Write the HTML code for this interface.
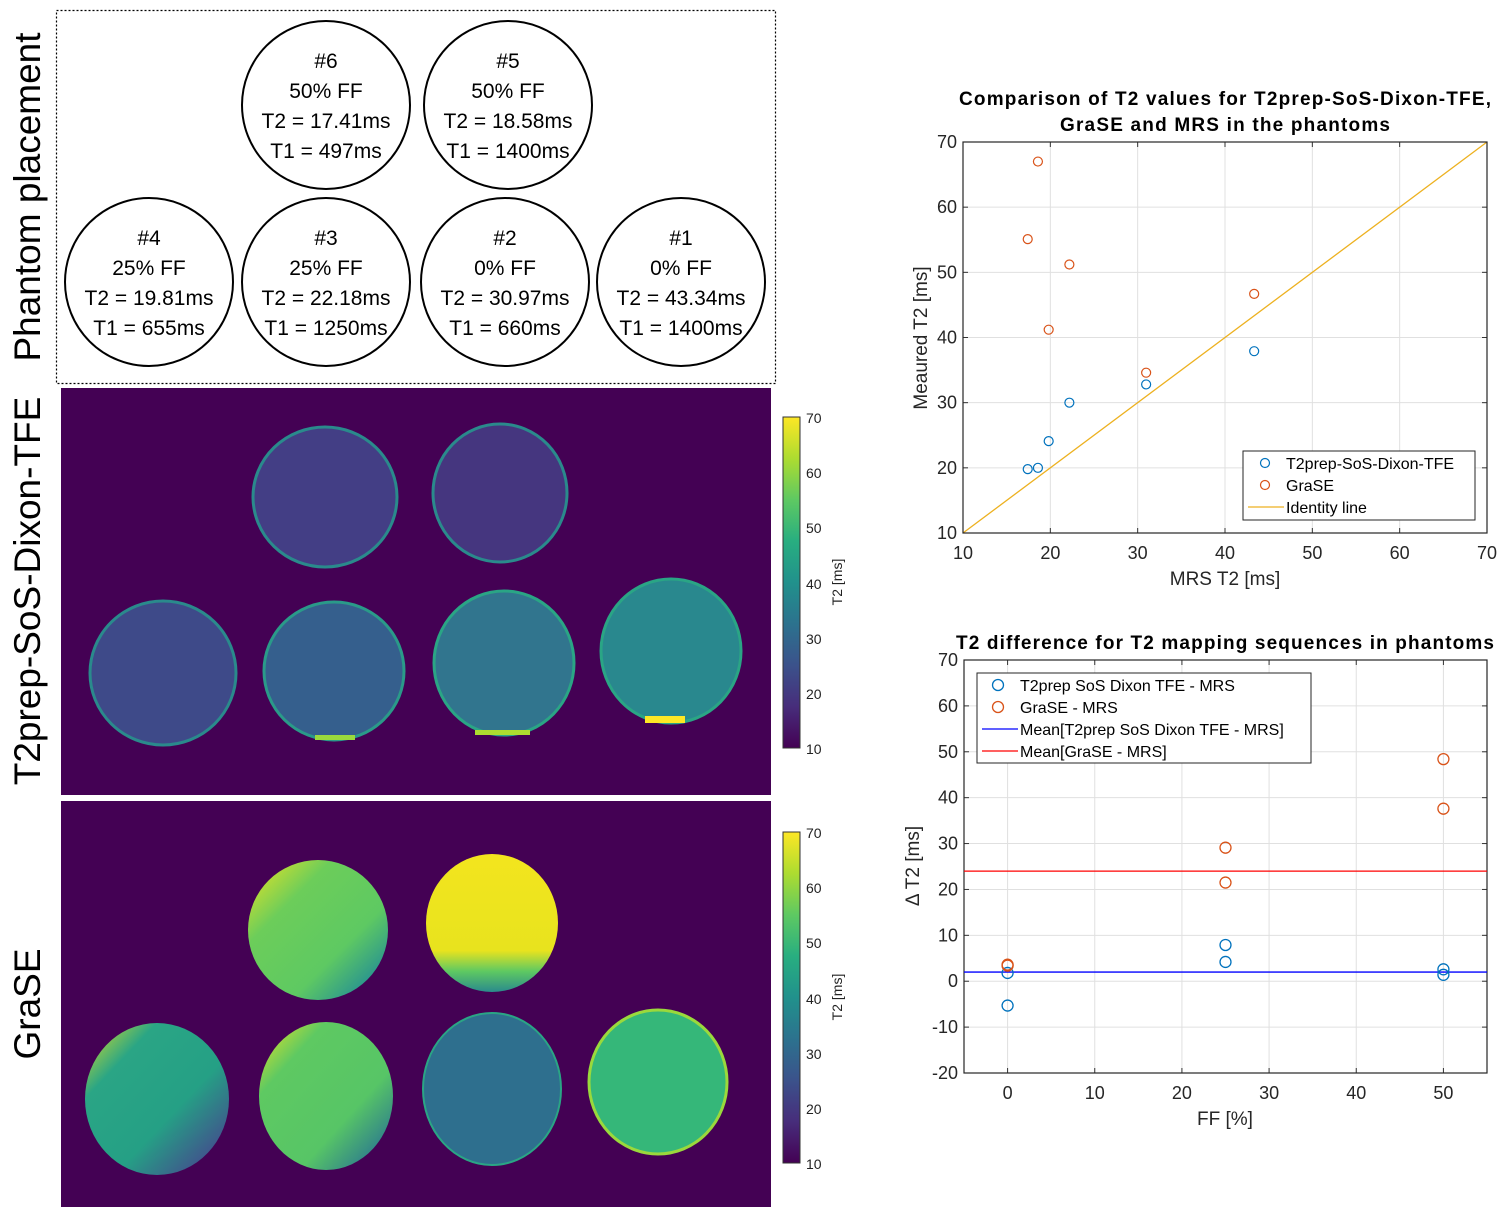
<!DOCTYPE html>
<html><head><meta charset="utf-8">
<style>
html,body{margin:0;padding:0;background:#fff;}
svg{display:block;font-family:"Liberation Sans",sans-serif;}
</style></head>
<body>
<svg id="root" width="1512" height="1221" viewBox="0 0 1512 1221" xmlns="http://www.w3.org/2000/svg">
<defs>
  <linearGradient id="viridis" x1="0" y1="1" x2="0" y2="0">
    <stop offset="0" stop-color="#440154"/><stop offset="0.125" stop-color="#472d7b"/>
    <stop offset="0.25" stop-color="#3b528b"/><stop offset="0.375" stop-color="#2c728e"/>
    <stop offset="0.5" stop-color="#21918c"/><stop offset="0.625" stop-color="#28ae80"/>
    <stop offset="0.75" stop-color="#5ec962"/><stop offset="0.875" stop-color="#addc30"/>
    <stop offset="1" stop-color="#fde725"/>
  </linearGradient>
  <linearGradient id="g6" x1="0" y1="0" x2="1" y2="1">
    <stop offset="0" stop-color="#f3e51e"/><stop offset="0.3" stop-color="#6ccd5a"/>
    <stop offset="0.65" stop-color="#5ec962"/><stop offset="0.85" stop-color="#2f9a8a"/><stop offset="1" stop-color="#3b528b"/>
  </linearGradient>
  <linearGradient id="g5" x1="0" y1="0" x2="0" y2="1">
    <stop offset="0" stop-color="#f3e51e"/><stop offset="0.7" stop-color="#e8e31e"/>
    <stop offset="0.85" stop-color="#5ec962"/><stop offset="1" stop-color="#2a8a8c"/>
  </linearGradient>
  <linearGradient id="g4" x1="0" y1="0" x2="1" y2="1">
    <stop offset="0" stop-color="#e5e21e"/><stop offset="0.25" stop-color="#2aa585"/>
    <stop offset="0.6" stop-color="#25a085"/><stop offset="0.85" stop-color="#3e5a8c"/><stop offset="1" stop-color="#3b528b"/>
  </linearGradient>
  <linearGradient id="g3" x1="0" y1="0" x2="1" y2="1">
    <stop offset="0" stop-color="#f1e51e"/><stop offset="0.25" stop-color="#5ec962"/>
    <stop offset="0.65" stop-color="#57c566"/><stop offset="0.9" stop-color="#2c7a8e"/><stop offset="1" stop-color="#3b528b"/>
  </linearGradient>
</defs>

<!-- Phantom placement box -->
<rect x="56.5" y="10.5" width="719" height="373" fill="none" stroke="#000" stroke-width="1.2" stroke-dasharray="2,2"/>
<g font-size="21" text-anchor="middle" fill="#000">
  <g><circle cx="326" cy="105" r="84" fill="#fff" stroke="#000" stroke-width="2"/>
    <text x="326" y="68">#6</text><text x="326" y="98">50% FF</text><text x="326" y="128">T2 = 17.41ms</text><text x="326" y="158">T1 = 497ms</text></g>
  <g><circle cx="508" cy="105" r="84" fill="#fff" stroke="#000" stroke-width="2"/>
    <text x="508" y="68">#5</text><text x="508" y="98">50% FF</text><text x="508" y="128">T2 = 18.58ms</text><text x="508" y="158">T1 = 1400ms</text></g>
  <g><circle cx="149" cy="282" r="84" fill="#fff" stroke="#000" stroke-width="2"/>
    <text x="149" y="245">#4</text><text x="149" y="275">25% FF</text><text x="149" y="305">T2 = 19.81ms</text><text x="149" y="335">T1 = 655ms</text></g>
  <g><circle cx="326" cy="282" r="84" fill="#fff" stroke="#000" stroke-width="2"/>
    <text x="326" y="245">#3</text><text x="326" y="275">25% FF</text><text x="326" y="305">T2 = 22.18ms</text><text x="326" y="335">T1 = 1250ms</text></g>
  <g><circle cx="505" cy="282" r="84" fill="#fff" stroke="#000" stroke-width="2"/>
    <text x="505" y="245">#2</text><text x="505" y="275">0% FF</text><text x="505" y="305">T2 = 30.97ms</text><text x="505" y="335">T1 = 660ms</text></g>
  <g><circle cx="681" cy="282" r="84" fill="#fff" stroke="#000" stroke-width="2"/>
    <text x="681" y="245">#1</text><text x="681" y="275">0% FF</text><text x="681" y="305">T2 = 43.34ms</text><text x="681" y="335">T1 = 1400ms</text></g>
</g>

<!-- Row labels -->
<text transform="translate(40,197) rotate(-90)" text-anchor="middle" font-size="37">Phantom placement</text>
<text transform="translate(40,591) rotate(-90)" text-anchor="middle" font-size="37">T2prep-SoS-Dixon-TFE</text>
<text transform="translate(40,1004) rotate(-90)" text-anchor="middle" font-size="37">GraSE</text>

<!-- T2prep map -->
<g>
  <rect x="61" y="388" width="710" height="407" fill="#440154"/>
  <ellipse cx="325" cy="497" rx="72" ry="70" fill="#433e85" stroke="#2a8a8c" stroke-width="3"/>
  <ellipse cx="500" cy="493" rx="67" ry="69" fill="#45367f" stroke="#2a8a8c" stroke-width="3"/>
  <ellipse cx="163" cy="673" rx="73" ry="72" fill="#3e4a89" stroke="#2a8a8c" stroke-width="3"/>
  <ellipse cx="334" cy="671" rx="70" ry="69" fill="#355f8d" stroke="#2a9a89" stroke-width="3"/>
  <ellipse cx="504" cy="663" rx="70" ry="72" fill="#31758e" stroke="#2aa585" stroke-width="3"/>
  <ellipse cx="671" cy="651" rx="70" ry="72" fill="#29888e" stroke="#2aa585" stroke-width="3"/>
  <rect x="315" y="735" width="40" height="5" fill="#9ad93c"/>
  <rect x="475" y="730" width="55" height="5" fill="#addc30"/>
  <rect x="645" y="716" width="40" height="7" fill="#fde725"/>
</g>
<!-- T2prep colorbar -->
<g>
  <rect x="783" y="417" width="17" height="331" fill="url(#viridis)" stroke="#333" stroke-width="1"/>
  <g font-size="14" fill="#222">
    <text x="806" y="423">70</text><text x="806" y="478">60</text><text x="806" y="533">50</text>
    <text x="806" y="589">40</text><text x="806" y="644">30</text><text x="806" y="699">20</text><text x="806" y="754">10</text>
  </g>
  <text transform="translate(842,582) rotate(-90)" text-anchor="middle" font-size="14" fill="#222">T2 [ms]</text>
</g>

<!-- GraSE map -->
<g>
  <rect x="61" y="801" width="710" height="406" fill="#440154"/>
  <ellipse cx="318" cy="930" rx="70" ry="70" fill="url(#g6)"/>
  <ellipse cx="492" cy="923" rx="66" ry="69" fill="url(#g5)"/>
  <ellipse cx="157" cy="1099" rx="72" ry="76" fill="url(#g4)"/>
  <ellipse cx="326" cy="1096" rx="67" ry="74" fill="url(#g3)"/>
  <ellipse cx="492" cy="1089" rx="69" ry="76" fill="#2e6f8e" stroke="#2aa585" stroke-width="2"/>
  <ellipse cx="658" cy="1082" rx="69" ry="72" fill="#35b779" stroke="#9ad93c" stroke-width="3"/>
</g>
<g>
  <rect x="783" y="832" width="17" height="331" fill="url(#viridis)" stroke="#333" stroke-width="1"/>
  <g font-size="14" fill="#222">
    <text x="806" y="838">70</text><text x="806" y="893">60</text><text x="806" y="948">50</text>
    <text x="806" y="1004">40</text><text x="806" y="1059">30</text><text x="806" y="1114">20</text><text x="806" y="1169">10</text>
  </g>
  <text transform="translate(842,997) rotate(-90)" text-anchor="middle" font-size="14" fill="#222">T2 [ms]</text>
</g>

<g id="chart1"></g>
<g id="chart2"></g>
</svg>
<script>
// Chart 1 data
const mrsT2 = [17.41, 18.58, 19.81, 22.18, 30.97, 43.34];
const t2prepT2 = [19.8, 20.0, 24.1, 30.0, 32.8, 37.9];
const graseT2 = [55.1, 67.0, 41.2, 51.2, 34.6, 46.7];
const c1Ticks = [10, 20, 30, 40, 50, 60, 70];
// Chart 2 data
const ffT2prep = [0, 0, 25, 25, 50, 50];
const diffT2prep = [1.8, -5.3, 7.9, 4.2, 2.6, 1.4];
const ffGrase = [0, 0, 25, 25, 50, 50];
const diffGrase = [3.4, 3.6, 29.1, 21.5, 48.4, 37.6];
const meanT2prep = [2.0];
const meanGrase = [24.0];
const c2XTicks = [0, 10, 20, 30, 40, 50];
const c2YTicks = [-20, -10, 0, 10, 20, 30, 40, 50, 60, 70];

const NS = "http://www.w3.org/2000/svg";
function mk(parent, tag, attrs, text) {
  const e = document.createElementNS(NS, tag);
  for (const k in attrs) e.setAttribute(k, attrs[k]);
  if (text !== undefined) e.textContent = text;
  parent.appendChild(e);
  return e;
}
const BLUE = "#0072bd", ORANGE = "#d95319";

// ---- Chart 1 ----
(function () {
  const g = document.getElementById('chart1');
  const L = 963, R = 1487, T = 142, B = 533;
  const sx = v => L + (v - 10) / 60 * (R - L);
  const sy = v => B - (v - 10) / 60 * (B - T);
  mk(g, 'rect', { x: L, y: T, width: R - L, height: B - T, fill: '#fff' });
  c1Ticks.forEach(t => {
    const gl = mk(g, 'line', { x1: sx(t), x2: sx(t), y1: T, y2: B, stroke: '#e0e0e0', 'stroke-width': 1 });
    
    
    mk(g, 'line', { x1: L, x2: R, y1: sy(t), y2: sy(t), stroke: '#e0e0e0', 'stroke-width': 1 });
    mk(g, 'line', { x1: sx(t), x2: sx(t), y1: B, y2: B - 5, stroke: '#333' });
    mk(g, 'line', { x1: sx(t), x2: sx(t), y1: T, y2: T + 5, stroke: '#333' });
    mk(g, 'line', { x1: L, x2: L + 5, y1: sy(t), y2: sy(t), stroke: '#333' });
    mk(g, 'line', { x1: R, x2: R - 5, y1: sy(t), y2: sy(t), stroke: '#333' });
    const xl = mk(g, 'text', { x: sx(t), y: B + 26, 'text-anchor': 'middle', 'font-size': 18, fill: '#262626' }, t);
    
    
    const yl = mk(g, 'text', { x: L - 6, y: sy(t) + 6, 'text-anchor': 'end', 'font-size': 18, fill: '#262626' }, t);
    
    
  });
  const id = mk(g, 'line', { x1: sx(10), y1: sy(10), x2: sx(70), y2: sy(70), stroke: '#edb120', 'stroke-width': 1.3 });
  
  
  mk(g, 'rect', { x: L, y: T, width: R - L, height: B - T, fill: 'none', stroke: '#262626', 'stroke-width': 1.2 });
  mrsT2.forEach((m, i) => {
    const p = mk(g, 'circle', { cx: sx(m), cy: sy(t2prepT2[i]), r: 4.5, fill: 'none', stroke: BLUE, 'stroke-width': 1.2 });
    
    
    const q = mk(g, 'circle', { cx: sx(m), cy: sy(graseT2[i]), r: 4.5, fill: 'none', stroke: ORANGE, 'stroke-width': 1.2 });
    
    
  });
  const title = mk(g, 'text', { 'text-anchor': 'middle', 'font-size': 19, 'font-weight': 'bold', fill: '#000' });
  
  
  mk(title, 'tspan', { x: 1225, y: 105, textLength: 532 }, 'Comparison of T2 values for T2prep-SoS-Dixon-TFE,');
  mk(title, 'tspan', { x: 1225, y: 131, textLength: 330 }, 'GraSE and MRS in the phantoms');
  const xt = mk(g, 'text', { x: (L + R) / 2, y: 585, 'text-anchor': 'middle', 'font-size': 19, fill: '#262626' }, 'MRS T2 [ms]');
  
  
  const yt = mk(g, 'text', { transform: 'translate(927,338) rotate(-90)', 'text-anchor': 'middle', 'font-size': 19, fill: '#262626' }, 'Meaured T2 [ms]');
  
  
  const lg = mk(g, 'g', {});
  
  
  mk(lg, 'rect', { x: 1243, y: 451, width: 232, height: 69, fill: '#fff', stroke: '#262626', 'stroke-width': 1 });
  mk(lg, 'circle', { cx: 1265, cy: 463, r: 4.5, fill: 'none', stroke: BLUE, 'stroke-width': 1.2 });
  mk(lg, 'text', { x: 1286, y: 469, 'font-size': 16, fill: '#000' }, 'T2prep-SoS-Dixon-TFE');
  mk(lg, 'circle', { cx: 1265, cy: 485, r: 4.5, fill: 'none', stroke: ORANGE, 'stroke-width': 1.2 });
  mk(lg, 'text', { x: 1286, y: 491, 'font-size': 16, fill: '#000' }, 'GraSE');
  mk(lg, 'line', { x1: 1248, x2: 1284, y1: 507, y2: 507, stroke: '#edb120', 'stroke-width': 1.3 });
  mk(lg, 'text', { x: 1286, y: 513, 'font-size': 16, fill: '#000' }, 'Identity line');
})();

// ---- Chart 2 ----
(function () {
  const g = document.getElementById('chart2');
  const L = 964, R = 1487, T = 660, B = 1073;
  const sx = v => L + (v + 5) / 60 * (R - L);
  const sy = v => B - (v + 20) / 90 * (B - T);
  c2XTicks.forEach(t => {
    mk(g, 'line', { x1: sx(t), x2: sx(t), y1: T, y2: B, stroke: '#e0e0e0' });
    mk(g, 'line', { x1: sx(t), x2: sx(t), y1: B, y2: B - 5, stroke: '#333' });
    mk(g, 'line', { x1: sx(t), x2: sx(t), y1: T, y2: T + 5, stroke: '#333' });
    const xl = mk(g, 'text', { x: sx(t), y: B + 26, 'text-anchor': 'middle', 'font-size': 18, fill: '#262626' }, t);
    
    
  });
  c2YTicks.forEach(t => {
    mk(g, 'line', { x1: L, x2: R, y1: sy(t), y2: sy(t), stroke: '#e0e0e0' });
    mk(g, 'line', { x1: L, x2: L + 5, y1: sy(t), y2: sy(t), stroke: '#333' });
    mk(g, 'line', { x1: R, x2: R - 5, y1: sy(t), y2: sy(t), stroke: '#333' });
    const yl = mk(g, 'text', { x: L - 6, y: sy(t) + 6, 'text-anchor': 'end', 'font-size': 18, fill: '#262626' }, t);
    
    
  });
  mk(g, 'rect', { x: L, y: T, width: R - L, height: B - T, fill: 'none', stroke: '#262626', 'stroke-width': 1.2 });
  const mr = mk(g, 'line', { x1: L, x2: R, y1: sy(meanGrase[0]), y2: sy(meanGrase[0]), stroke: '#ff0000', 'stroke-width': 1.3 });
  
  
  const mb = mk(g, 'line', { x1: L, x2: R, y1: sy(meanT2prep[0]), y2: sy(meanT2prep[0]), stroke: '#0000ff', 'stroke-width': 1.3 });
  
  
  ffT2prep.forEach((f, i) => {
    const p = mk(g, 'circle', { cx: sx(f), cy: sy(diffT2prep[i]), r: 5.5, fill: 'none', stroke: BLUE, 'stroke-width': 1.3 });
    
    
  });
  ffGrase.forEach((f, i) => {
    const p = mk(g, 'circle', { cx: sx(f), cy: sy(diffGrase[i]), r: 5.5, fill: 'none', stroke: ORANGE, 'stroke-width': 1.3 });
    
    
  });
  const title = mk(g, 'text', { x: 1225, y: 649, 'text-anchor': 'middle', 'font-size': 19, 'font-weight': 'bold', fill: '#000', textLength: 538 }, 'T2 difference for T2 mapping sequences in phantoms');
  
  
  const xt = mk(g, 'text', { x: 1225, y: 1125, 'text-anchor': 'middle', 'font-size': 19, fill: '#262626' }, 'FF [%]');
  
  
  const yt = mk(g, 'text', { transform: 'translate(919,866) rotate(-90)', 'text-anchor': 'middle', 'font-size': 19, fill: '#262626' }, 'Δ T2 [ms]');
  
  
  const lg = mk(g, 'g', {});
  
  
  mk(lg, 'rect', { x: 977, y: 673, width: 334, height: 90, fill: '#fff', stroke: '#262626', 'stroke-width': 1 });
  mk(lg, 'circle', { cx: 998, cy: 685, r: 5.5, fill: 'none', stroke: BLUE, 'stroke-width': 1.3 });
  mk(lg, 'text', { x: 1020, y: 691, 'font-size': 16, fill: '#000' }, 'T2prep SoS Dixon TFE - MRS');
  mk(lg, 'circle', { cx: 998, cy: 707, r: 5.5, fill: 'none', stroke: ORANGE, 'stroke-width': 1.3 });
  mk(lg, 'text', { x: 1020, y: 713, 'font-size': 16, fill: '#000' }, 'GraSE - MRS');
  mk(lg, 'line', { x1: 982, x2: 1018, y1: 729, y2: 729, stroke: '#0000ff', 'stroke-width': 1.3 });
  mk(lg, 'text', { x: 1020, y: 735, 'font-size': 16, fill: '#000' }, 'Mean[T2prep SoS Dixon TFE - MRS]');
  mk(lg, 'line', { x1: 982, x2: 1018, y1: 751, y2: 751, stroke: '#ff0000', 'stroke-width': 1.3 });
  mk(lg, 'text', { x: 1020, y: 757, 'font-size': 16, fill: '#000' }, 'Mean[GraSE - MRS]');
})();
</script>
</body></html>
